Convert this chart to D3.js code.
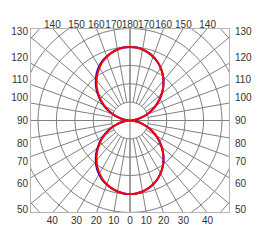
<!DOCTYPE html>
<html>
<head>
<meta charset="utf-8">
<script src="https://cdn.jsdelivr.net/npm/d3@7"></script>
<style>
body { margin: 0; background: #fff; }
.lbl { font-family: "Liberation Sans", Arial, sans-serif; font-size: 10px; fill: #333; }
</style>
</head>
<body>
<script>
// gamma angles (deg) and intensities (one ring = 100)
var gamma = [0, 5, 10, 15, 20, 25, 30, 35, 40, 45, 50, 55, 60, 65, 70, 75, 80, 85, 90,
             95, 100, 105, 110, 115, 120, 125, 130, 135, 140, 145, 150, 155, 160, 165, 170, 175, 180];
// C90 / C270 plane (red), same on both halves
var redI = [400, 398, 392, 382, 369, 352, 332, 309, 283, 255, 225, 194, 162, 131, 99, 69, 41, 17, 0,
            17, 41, 69, 99, 131, 162, 194, 225, 255, 283, 309, 332, 352, 369, 382, 392, 398, 400];
// C0 plane (blue, right half) and C180 plane (blue, left half)
var blueRight = [400, 398, 392, 382, 369, 352, 332, 309, 283, 255, 225, 194, 162, 131, 99, 69, 41, 17, 0,
                 17, 41, 69, 99, 131, 162, 194, 225, 255, 283, 309, 332, 352, 369, 382, 392, 398, 400];
var blueLeft = [400, 398, 392, 382, 370, 356, 337, 315, 289, 261, 230, 198, 165, 132, 99, 69, 41, 17, 0,
                17, 41, 69, 99, 132, 165, 198, 230, 261, 289, 315, 337, 356, 370, 382, 392, 398, 400];

var ringValues = [100, 200, 300, 400, 500, 600, 700];
var sideTicks = [130, 120, 110, 100, 90, 80, 70, 60, 50];
var topTicks = [140, 150, 160, 170, 180, 170, 160, 150, 140];
var bottomTicks = [40, 30, 20, 10, 0, 10, 20, 30, 40];

var vis = {
    w: 260, h: 251,
    left: 30, right: 230, top: 28, bottom: 213
};
vis.cx = (vis.left + vis.right) / 2;
vis.cy = (vis.top + vis.bottom) / 2;

var rad = Math.PI / 180;
var r = d3.scaleLinear().domain([0, 100]).range([0, 18.4]);

var svg = d3.select("body").append("svg")
    .attr("width", vis.w)
    .attr("height", vis.h);

svg.append("clipPath").attr("id", "frame")
    .append("rect")
    .attr("x", vis.left).attr("y", vis.top)
    .attr("width", vis.right - vis.left).attr("height", vis.bottom - vis.top);

// clip on the outer group, translate on the inner one
var grid = svg.append("g")
    .attr("clip-path", "url(#frame)")
    .append("g")
    .attr("transform", "translate(" + vis.cx + "," + vis.cy + ")");

// circles
grid.selectAll("circle")
    .data(ringValues)
    .enter()
    .append("circle")
    .attr("r", function(d) { return r(d); })
    .attr("fill", "none")
    .attr("stroke", "#808080")
    .attr("stroke-width", 1);

// radial lines every 10 deg, starting at the inner ring
var spokes = d3.range(0, 360, 10);
grid.selectAll("line.spoke")
    .data(spokes)
    .enter()
    .append("line")
    .attr("class", "spoke")
    .attr("x1", function(d) { return r(100) * Math.sin(d * rad); })
    .attr("y1", function(d) { return r(100) * Math.cos(d * rad); })
    .attr("x2", function(d) { return 300 * Math.sin(d * rad); })
    .attr("y2", function(d) { return 300 * Math.cos(d * rad); })
    .attr("stroke", "#808080")
    .attr("stroke-width", 1);

// axes through the centre
grid.append("line").attr("x1", -200).attr("x2", 200).attr("y1", 0).attr("y2", 0)
    .attr("stroke", "#808080");
grid.append("line").attr("y1", -200).attr("y2", 200).attr("x1", 0).attr("x2", 0)
    .attr("stroke", "#808080");

// frame
svg.append("rect")
    .attr("x", vis.left + 0.5).attr("y", vis.top + 0.5)
    .attr("width", vis.right - vis.left - 1).attr("height", vis.bottom - vis.top - 1)
    .attr("fill", "none")
    .attr("stroke", "#b4b4b4");

// curves
function curvePoints(rightVals, leftVals) {
    var pts = [];
    gamma.forEach(function(g, i) { pts.push([Math.PI - g * rad, r(rightVals[i])]); });
    for (var i = gamma.length - 2; i > 0; i--) {
        pts.push([Math.PI + gamma[i] * rad, r(leftVals[i])]);
    }
    return pts;
}
var line = d3.lineRadial()
    .angle(function(d) { return d[0]; })
    .radius(function(d) { return d[1]; })
    .curve(d3.curveCatmullRomClosed);

var curves = svg.append("g")
    .attr("transform", "translate(" + vis.cx + "," + vis.cy + ")");
curves.append("path")
    .attr("d", line(curvePoints(blueRight, blueLeft)))
    .attr("fill", "none").attr("stroke", "#0000ff").attr("stroke-width", 2);
curves.append("path")
    .attr("d", line(curvePoints(redI, redI)))
    .attr("fill", "none").attr("stroke", "#ff0000").attr("stroke-width", 2);

// labels
var halfW = vis.cx - vis.left;
var halfH = vis.cy - vis.top;
function sideY(g) {
    var c = Math.cos(g * rad);
    var off = c > 0.001 ? 5 : (c < -0.001 ? -5 : 0);
    return vis.cy + halfW * c / Math.sin(g * rad) + off;
}
svg.selectAll("text.left")
    .data(sideTicks).enter().append("text")
    .attr("class", "lbl left")
    .attr("x", vis.left - 2)
    .attr("y", function(d) { return sideY(d); })
    .attr("dy", "0.35em")
    .attr("text-anchor", "end")
    .text(function(d) { return d; });
svg.selectAll("text.right")
    .data(sideTicks).enter().append("text")
    .attr("class", "lbl right")
    .attr("x", vis.right + 5)
    .attr("y", function(d) { return sideY(d); })
    .attr("dy", "0.35em")
    .attr("text-anchor", "start")
    .text(function(d) { return d; });
svg.selectAll("text.bottom")
    .data(bottomTicks).enter().append("text")
    .attr("class", "lbl bottom")
    .attr("x", function(d, i) {
        var s = i < 4 ? -1 : 1;
        return vis.cx + s * (vis.bottom - vis.cy) * Math.tan(d * rad);
    })
    .attr("y", vis.bottom + 7)
    .attr("dy", "0.35em")
    .attr("text-anchor", "middle")
    .text(function(d) { return d; });
svg.selectAll("text.top")
    .data(topTicks).enter().append("text")
    .attr("class", "lbl top")
    .attr("x", function(d, i) {
        var s = i < 4 ? -1 : 1;
        return vis.cx + s * halfH * Math.tan((180 - d) * rad);
    })
    .attr("y", vis.top - 4)
    .attr("dy", "0.35em")
    .attr("text-anchor", "middle")
    .text(function(d) { return d; });
</script>
</body>
</html>
